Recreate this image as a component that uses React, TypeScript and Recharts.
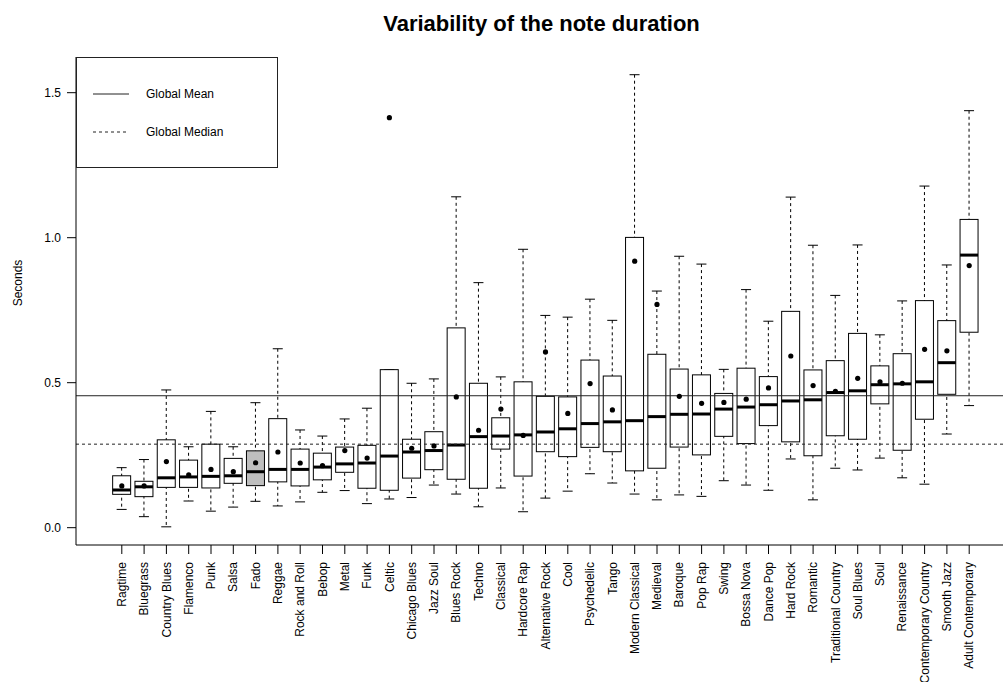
import React from 'react';
import {
  ComposedChart,
  Bar,
  Line,
  XAxis,
  YAxis,
  ReferenceLine,
} from 'recharts';

// Genres, ordered by median note duration
const categories = [
  'Ragtime', 'Bluegrass', 'Country Blues', 'Flamenco', 'Punk', 'Salsa', 'Fado',
  'Reggae', 'Rock and Roll', 'Bebop', 'Metal', 'Funk', 'Celtic', 'Chicago Blues',
  'Jazz Soul', 'Blues Rock', 'Techno', 'Classical', 'Hardcore Rap', 'Alternative Rock',
  'Cool', 'Psychedelic', 'Tango', 'Modern Classical', 'Medieval', 'Baroque', 'Pop Rap',
  'Swing', 'Bossa Nova', 'Dance Pop', 'Hard Rock', 'Romantic', 'Traditional Country',
  'Soul Blues', 'Soul', 'Renaissance', 'Contemporary Country', 'Smooth Jazz',
  'Adult Contemporary',
];

// Box-plot statistics (seconds)
const whiskerLow = [
  0.063, 0.038, 0.003, 0.092, 0.057, 0.071, 0.091, 0.075, 0.089, 0.122, 0.128, 0.083, 0.099,
  0.104, 0.147, 0.116, 0.072, 0.137, 0.055, 0.102, 0.126, 0.186, 0.154, 0.116, 0.096, 0.113,
  0.108, 0.162, 0.147, 0.129, 0.237, 0.096, 0.205, 0.199, 0.240, 0.172, 0.150, 0.323, 0.421,
];
const lowerQuartile = [
  0.115, 0.107, 0.139, 0.139, 0.137, 0.153, 0.145, 0.158, 0.144, 0.165, 0.191, 0.136, 0.129,
  0.171, 0.200, 0.167, 0.136, 0.271, 0.178, 0.262, 0.245, 0.277, 0.262, 0.196, 0.205, 0.278,
  0.251, 0.315, 0.290, 0.352, 0.296, 0.248, 0.317, 0.305, 0.427, 0.267, 0.374, 0.460, 0.674,
];
const medians = [
  0.130, 0.141, 0.172, 0.175, 0.177, 0.179, 0.193, 0.201, 0.201, 0.209, 0.220, 0.223, 0.247,
  0.261, 0.266, 0.285, 0.314, 0.316, 0.320, 0.330, 0.341, 0.359, 0.365, 0.369, 0.383, 0.391,
  0.392, 0.409, 0.416, 0.424, 0.437, 0.441, 0.466, 0.472, 0.493, 0.496, 0.503, 0.569, 0.940,
];
const upperQuartile = [
  0.179, 0.160, 0.303, 0.233, 0.288, 0.239, 0.265, 0.376, 0.271, 0.257, 0.278, 0.284, 0.545,
  0.305, 0.331, 0.689, 0.498, 0.379, 0.503, 0.453, 0.451, 0.578, 0.523, 1.001, 0.598, 0.547,
  0.527, 0.463, 0.550, 0.521, 0.746, 0.544, 0.576, 0.670, 0.558, 0.600, 0.783, 0.714, 1.063,
];
const whiskerHigh = [
  0.207, 0.235, 0.475, 0.279, 0.401, 0.279, 0.431, 0.617, 0.337, 0.316, 0.375, 0.412, 0.545,
  0.498, 0.513, 1.141, 0.845, 0.520, 0.960, 0.732, 0.726, 0.788, 0.715, 1.562, 0.816, 0.936,
  0.909, 0.546, 0.821, 0.712, 1.140, 0.974, 0.801, 0.975, 0.665, 0.782, 1.178, 0.906, 1.438,
];
const means = [
  0.144, 0.144, 0.228, 0.182, 0.201, 0.193, 0.224, 0.261, 0.223, 0.214, 0.266, 0.240, 1.414,
  0.274, 0.282, 0.451, 0.336, 0.409, 0.318, 0.606, 0.394, 0.497, 0.406, 0.919, 0.770, 0.453,
  0.429, 0.432, 0.443, 0.482, 0.592, 0.490, 0.470, 0.515, 0.503, 0.498, 0.615, 0.610, 0.904,
];

const highlightedGenres = ['Fado'];
const yTicks = [0, 0.5, 1.0, 1.5];
const globalMean = 0.455;
const globalMedian = 0.288;
const legendItems = [
  { label: 'Global Mean', dash: undefined as string | undefined },
  { label: 'Global Median', dash: '3 3' },
];

const data = categories.map((name, i) => ({
  name,
  lo: whiskerLow[i],
  q1: lowerQuartile[i],
  med: medians[i],
  q3: upperQuartile[i],
  hi: whiskerHigh[i],
  mean: means[i],
  highlight: highlightedGenres.includes(name),
}));

const FONT = '"Liberation Sans", Arial, Helvetica, sans-serif';
const INK = '#000';

// Dashed whisker with end staples; the bar spans lo..hi
const WhiskerShape = (props: any) => {
  const { x, y, width, height } = props;
  if (x == null || y == null) return null;
  const top = Math.min(y, y + height);
  const bottom = Math.max(y, y + height);
  const cx = x + width / 2;
  return (
    <g>
      <line x1={cx} x2={cx} y1={top} y2={bottom} stroke={INK} strokeWidth={1} strokeDasharray="3 3" />
      <line x1={x} x2={x + width} y1={top} y2={top} stroke={INK} strokeWidth={1} />
      <line x1={x} x2={x + width} y1={bottom} y2={bottom} stroke={INK} strokeWidth={1} />
    </g>
  );
};

// Interquartile box with a heavy median bar; the bar spans q1..q3
const BoxShape = (props: any) => {
  const { x, y, width, height, payload } = props;
  if (x == null || y == null || !payload) return null;
  const top = Math.min(y, y + height);
  const h = Math.abs(height);
  const span = payload.q3 - payload.q1;
  const medY = span > 0 ? top + (h * (payload.q3 - payload.med)) / span : top;
  return (
    <g>
      <rect
        x={x}
        y={top}
        width={width}
        height={h}
        fill={payload.highlight ? '#bebebe' : '#fff'}
        stroke={INK}
        strokeWidth={1}
      />
      <line x1={x} x2={x + width} y1={medY} y2={medY} stroke={INK} strokeWidth={3} />
    </g>
  );
};

const GenreTick = (props: any) => {
  const { x, y, payload } = props;
  return (
    <text
      x={x}
      y={y}
      transform={`rotate(-90, ${x}, ${y})`}
      textAnchor="end"
      dy="0.35em"
      fontSize={12}
      fontFamily={FONT}
      fill={INK}
    >
      {payload.value}
    </text>
  );
};

const xPadding = { left: 34.65, right: 34.65 };

export default function App() {
  return (
    <div
      style={{
        position: 'absolute',
        left: 0,
        top: 0,
        width: 1003,
        height: 682,
        overflow: 'hidden',
        background: '#fff',
        fontFamily: FONT,
      }}
    >
      <div
        style={{
          position: 'absolute',
          left: 0,
          width: 1083,
          top: 13,
          textAlign: 'center',
          fontSize: 22,
          lineHeight: '22px',
          fontWeight: 'bold',
          color: INK,
        }}
      >
        Variability of the note duration
      </div>
      <div
        style={{
          position: 'absolute',
          left: 18,
          top: 283,
          transform: 'translate(-50%, -50%) rotate(-90deg)',
          fontSize: 12,
          whiteSpace: 'nowrap',
          color: INK,
        }}
      >
        Seconds
      </div>

      <ComposedChart
        width={1030}
        height={682}
        data={data}
        margin={{ top: 57, right: 15, bottom: 0, left: 0 }}
      >
        <XAxis
          xAxisId={0}
          dataKey="name"
          type="category"
          interval={0}
          padding={xPadding}
          height={137}
          tickSize={9}
          tickMargin={8}
          tick={<GenreTick />}
          tickLine={{ stroke: INK }}
          axisLine={{ stroke: INK }}
        />
        <XAxis xAxisId={1} dataKey="name" type="category" padding={xPadding} hide />
        <XAxis
          xAxisId={2}
          dataKey="name"
          type="category"
          orientation="top"
          padding={xPadding}
          height={0}
          tick={false}
          tickLine={false}
          axisLine={{ stroke: INK }}
        />
        <YAxis
          type="number"
          domain={[-0.0597, 1.6231]}
          allowDataOverflow
          ticks={yTicks}
          width={76}
          tickSize={9}
          tickMargin={6}
          tickFormatter={(v: number) => v.toFixed(1)}
          tick={{ fontSize: 12, fill: INK, fontFamily: FONT }}
          tickLine={{ stroke: INK }}
          axisLine={{ stroke: INK }}
        />

        <ReferenceLine y={globalMean} xAxisId={0} stroke="#222" strokeWidth={1} />
        <ReferenceLine y={globalMedian} xAxisId={0} stroke="#222" strokeWidth={1} strokeDasharray="3 3" />

        <Bar
          xAxisId={1}
          dataKey={(d: any) => [d.lo, d.hi]}
          barSize={10}
          shape={<WhiskerShape />}
          isAnimationActive={false}
        />
        <Bar
          xAxisId={0}
          dataKey={(d: any) => [d.q1, d.q3]}
          barSize={18}
          shape={<BoxShape />}
          isAnimationActive={false}
        />
        <Line
          xAxisId={0}
          dataKey="mean"
          stroke="none"
          dot={{ r: 2.6, fill: INK, stroke: 'none' }}
          activeDot={false}
          isAnimationActive={false}
        />
      </ComposedChart>

      <div
        style={{
          position: 'absolute',
          left: 76,
          top: 57,
          width: 202,
          height: 111,
          boxSizing: 'border-box',
          border: '1px solid #222',
          background: '#fff',
        }}
      >
        {legendItems.map((item, i) => (
          <div
            key={item.label}
            style={{ position: 'absolute', left: 0, top: 36 + i * 38 - 8, height: 16, width: 200 }}
          >
            <svg width={40} height={16} style={{ position: 'absolute', left: 15, top: 0 }}>
              <line x1={1} x2={37} y1={8} y2={8} stroke="#222" strokeWidth={1} strokeDasharray={item.dash} />
            </svg>
            <span
              style={{
                position: 'absolute',
                left: 69,
                top: 0,
                fontSize: 12,
                lineHeight: '16px',
                color: INK,
              }}
            >
              {item.label}
            </span>
          </div>
        ))}
      </div>
    </div>
  );
}
